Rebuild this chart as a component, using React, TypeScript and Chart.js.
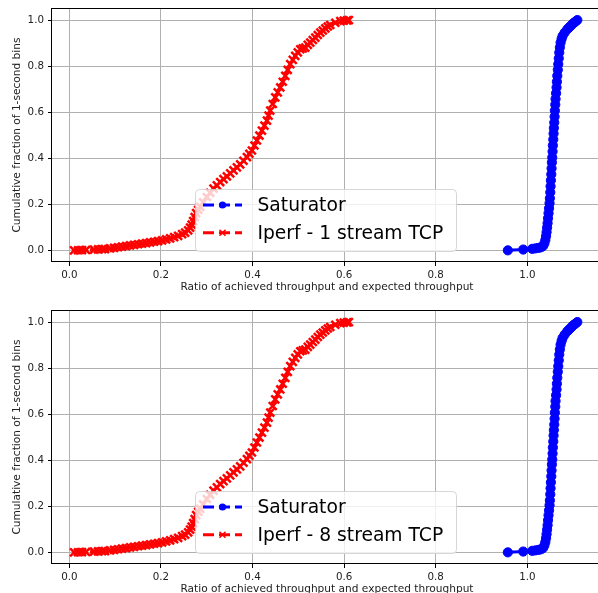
import React, { useEffect, useRef } from 'react';
import { Chart, registerables } from 'chart.js';

Chart.register(...registerables);

// ---------- data ----------
const xTickValues = [0, 0.2, 0.4, 0.6, 0.8, 1.0];
const yTickValues = [0, 0.2, 0.4, 0.6, 0.8, 1.0];

const xTitle = 'Ratio of achieved throughput and expected throughput';
const yTitle = 'Cumulative fraction of 1-second bins';
const saturatorLabel = 'Saturator';
const iperfTopLabel = 'Iperf - 1 stream TCP';
const iperfBottomLabel = 'Iperf - 8 stream TCP';

const iperf1X = [0.0103, 0.0190, 0.0278, 0.0365, 0.0540, 0.0627, 0.0715, 0.0780, 0.0890, 0.0977, 0.1064, 0.1152, 0.1239, 0.1327, 0.1414, 0.1502, 0.1589, 0.1677, 0.1764, 0.1851, 0.1939, 0.2026, 0.2114, 0.2201, 0.2289, 0.2376, 0.2463, 0.2529, 0.2595, 0.2638, 0.2671, 0.2704, 0.2737, 0.2769, 0.2813, 0.2857, 0.2922, 0.3003, 0.3075, 0.3148, 0.3222, 0.3294, 0.3366, 0.3440, 0.3513, 0.3585, 0.3659, 0.3731, 0.3803, 0.3878, 0.3932, 0.3987, 0.4042, 0.4096, 0.4151, 0.4206, 0.4260, 0.4315, 0.4350, 0.4387, 0.4442, 0.4496, 0.4551, 0.4606, 0.4660, 0.4715, 0.4769, 0.4824, 0.4879, 0.4933, 0.4988, 0.5043, 0.5097, 0.5152, 0.5207, 0.5261, 0.5316, 0.5371, 0.5425, 0.5480, 0.5534, 0.5589, 0.5644, 0.5698, 0.5808, 0.5917, 0.5993, 0.6063, 0.6103];
const iperf1Y = [0, 0.0004, 0.0013, 0.0017, 0.0035, 0.0043, 0.0052, 0.0056, 0.0086, 0.0108, 0.0134, 0.0160, 0.0186, 0.0216, 0.0238, 0.0264, 0.0290, 0.0316, 0.0346, 0.0372, 0.0402, 0.0432, 0.0476, 0.0523, 0.0575, 0.0631, 0.0705, 0.0770, 0.0865, 0.0986, 0.1115, 0.1267, 0.1440, 0.1613, 0.1764, 0.1885, 0.2088, 0.2317, 0.2499, 0.2681, 0.2823, 0.2966, 0.3091, 0.3212, 0.3342, 0.3472, 0.3601, 0.3731, 0.3891, 0.4047, 0.4194, 0.4336, 0.4553, 0.4769, 0.4985, 0.5201, 0.5417, 0.5634, 0.5850, 0.6066, 0.6355, 0.6641, 0.6857, 0.7073, 0.7320, 0.7579, 0.7838, 0.8085, 0.8271, 0.8444, 0.8595, 0.8733, 0.8768, 0.8803, 0.8919, 0.9019, 0.9135, 0.9235, 0.9352, 0.9451, 0.9546, 0.9641, 0.9719, 0.9784, 0.9883, 0.9957, 0.9974, 0.9987, 1.0];

const saturatorX = [0.9574, 0.9910, 1.0107, 1.0179, 1.0245, 1.0299, 1.0343, 1.0372, 1.0393, 1.0409, 1.0420, 1.0431, 1.0442, 1.0452, 1.0463, 1.0474, 1.0485, 1.0492, 1.0501, 1.0507, 1.0514, 1.0523, 1.0529, 1.0536, 1.0544, 1.0551, 1.0557, 1.0566, 1.0573, 1.0579, 1.0588, 1.0595, 1.0601, 1.0610, 1.0616, 1.0627, 1.0638, 1.0645, 1.0654, 1.0665, 1.0675, 1.0686, 1.0697, 1.0710, 1.0726, 1.0748, 1.0769, 1.0813, 1.0872, 1.0907, 1.0944, 1.0981, 1.1016, 1.1054, 1.1091];
const saturatorY = [0, 0.0035, 0.0065, 0.0086, 0.0108, 0.0134, 0.0186, 0.0294, 0.0445, 0.0618, 0.0791, 0.0986, 0.1180, 0.1396, 0.1613, 0.1829, 0.2045, 0.2261, 0.2520, 0.2780, 0.3039, 0.3299, 0.3558, 0.3817, 0.4034, 0.4293, 0.4553, 0.4812, 0.5071, 0.5309, 0.5547, 0.5806, 0.6066, 0.6325, 0.6572, 0.6822, 0.7073, 0.7320, 0.7579, 0.7838, 0.8085, 0.8336, 0.8586, 0.8811, 0.9019, 0.9179, 0.9308, 0.9451, 0.9598, 0.9667, 0.9741, 0.9814, 0.9883, 0.9935, 1.0];

// The lower panel's curves read the same as the upper panel's.
const iperf8X = iperf1X;
const iperf8Y = iperf1Y;
const saturator2X = saturatorX;
const saturator2Y = saturatorY;

// ---------- styling ----------
const FONT = '"DejaVu Sans", "Liberation Sans", sans-serif';
const BLUE = '#0000ff';
const RED = '#ff0000';

const zip = (xs: number[], ys: number[]) =>
  xs.slice(0, Math.min(xs.length, ys.length)).map((x, i) => ({ x, y: ys[i] }));

function framePlugin(entries: { label: string; color: string; marker: 'circle' | 'x' }[]) {
  return {
    id: 'frameAndLegend',
    afterDatasetsDraw(chart: any) {
      const { ctx, chartArea: a } = chart;
      ctx.save();
      // axes box (spines)
      ctx.strokeStyle = '#000';
      ctx.lineWidth = 1;
      ctx.setLineDash([]);
      const l = Math.round(a.left) - 0.5;
      const t = Math.round(a.top) + 0.5;
      const r = Math.round(a.right) - 0.5;
      const b = Math.round(a.bottom) - 0.5;
      ctx.strokeRect(l, t, r - l, b - t);

      // legend box
      const bx = 195.5, by = 189.5, bw = 261, bh = 62, rad = 4;
      ctx.beginPath();
      ctx.moveTo(bx + rad, by);
      ctx.lineTo(bx + bw - rad, by);
      ctx.quadraticCurveTo(bx + bw, by, bx + bw, by + rad);
      ctx.lineTo(bx + bw, by + bh - rad);
      ctx.quadraticCurveTo(bx + bw, by + bh, bx + bw - rad, by + bh);
      ctx.lineTo(bx + rad, by + bh);
      ctx.quadraticCurveTo(bx, by + bh, bx, by + bh - rad);
      ctx.lineTo(bx, by + rad);
      ctx.quadraticCurveTo(bx, by, bx + rad, by);
      ctx.closePath();
      ctx.fillStyle = 'rgba(255,255,255,0.8)';
      ctx.fill();
      ctx.strokeStyle = 'rgba(204,204,204,0.8)';
      ctx.lineWidth = 1;
      ctx.stroke();

      entries.forEach((e, i) => {
        const y = 205 + i * 27.7;
        ctx.strokeStyle = e.color;
        ctx.lineWidth = 3;
        ctx.setLineDash([11, 5]);
        ctx.beginPath();
        ctx.moveTo(203, y);
        ctx.lineTo(242, y);
        ctx.stroke();
        ctx.setLineDash([]);
        const mx = 222.5;
        if (e.marker === 'circle') {
          ctx.fillStyle = e.color;
          ctx.beginPath();
          ctx.arc(mx, y, 3.6, 0, Math.PI * 2);
          ctx.fill();
        } else {
          ctx.lineWidth = 1.5;
          ctx.beginPath();
          ctx.moveTo(mx - 3, y - 3);
          ctx.lineTo(mx + 3, y + 3);
          ctx.moveTo(mx - 3, y + 3);
          ctx.lineTo(mx + 3, y - 3);
          ctx.stroke();
        }
        ctx.fillStyle = '#000';
        ctx.font = `18.7px ${FONT}`;
        ctx.textBaseline = 'middle';
        ctx.textAlign = 'left';
        ctx.fillText(e.label, 257.5, y + 1);
      });
      ctx.restore();
    },
  };
}

function makeConfig(sx: number[], sy: number[], ix: number[], iy: number[], iperfLabel: string): any {
  return {
    type: 'line',
    data: {
      datasets: [
        {
          label: saturatorLabel,
          data: zip(sx, sy),
          borderColor: BLUE,
          backgroundColor: BLUE,
          borderWidth: 3,
          borderDash: [11, 5],
          pointStyle: 'circle',
          pointRadius: 4.6,
          pointBackgroundColor: BLUE,
          pointBorderColor: BLUE,
          pointBorderWidth: 1,
          tension: 0,
          fill: false,
        },
        {
          label: iperfLabel,
          data: zip(ix, iy),
          borderColor: RED,
          backgroundColor: RED,
          borderWidth: 3,
          borderDash: [11, 5],
          pointStyle: 'crossRot',
          pointRadius: 5.6,
          pointBackgroundColor: RED,
          pointBorderColor: RED,
          pointBorderWidth: 2.5,
          tension: 0,
          fill: false,
        },
      ],
    },
    options: {
      animation: false,
      responsive: false,
      devicePixelRatio: 1,
      events: [],
      layout: { padding: { top: 7, left: 0, right: 10, bottom: 0 } },
      plugins: { legend: { display: false }, tooltip: { enabled: false } },
      scales: {
        x: {
          type: 'linear',
          min: -0.0378,
          max: 1.163,
          afterBuildTicks: (s: any) => {
            s.ticks = xTickValues.map((v) => ({ value: v }));
          },
          afterFit: (s: any) => {
            s.height = 38;
            s.paddingLeft = 0;
            s.paddingRight = 0;
          },
          border: { display: false },
          grid: { color: '#b0b0b0', lineWidth: 1, tickColor: '#000', tickLength: 4, drawTicks: true },
          ticks: {
            color: '#222',
            font: { family: FONT, size: 10.3 },
            padding: 3,
            maxRotation: 0,
            autoSkip: false,
            callback: (v: any) => Number(v).toFixed(1),
          },
          title: {
            display: true,
            text: xTitle,
            color: '#222',
            font: { family: FONT, size: 10.6 },
            padding: { top: 0, bottom: 6 },
          },
        },
        y: {
          type: 'linear',
          min: -0.0506,
          max: 1.0519,
          afterBuildTicks: (s: any) => {
            s.ticks = yTickValues.map((v) => ({ value: v }));
          },
          afterFit: (s: any) => {
            s.width = 52;
            s.paddingTop = 0;
            s.paddingBottom = 0;
          },
          border: { display: false },
          grid: { color: '#b0b0b0', lineWidth: 1, tickColor: '#000', tickLength: 4, drawTicks: true },
          ticks: {
            color: '#222',
            font: { family: FONT, size: 10.3 },
            padding: 4,
            autoSkip: false,
            callback: (v: any) => Number(v).toFixed(1),
          },
          title: {
            display: true,
            text: yTitle,
            color: '#222',
            font: { family: FONT, size: 10.6 },
            padding: { top: 11, bottom: 0 },
          },
        },
      },
    },
    plugins: [
      framePlugin([
        { label: saturatorLabel, color: BLUE, marker: 'circle' },
        { label: iperfLabel, color: RED, marker: 'x' },
      ]),
    ],
  };
}

function Panel({ top, cfg }: { top: number; cfg: () => any }) {
  const ref = useRef<HTMLCanvasElement | null>(null);
  useEffect(() => {
    if (!ref.current) return;
    const chart = new Chart(ref.current, cfg());
    return () => chart.destroy();
  }, []);
  return (
    <canvas
      ref={ref}
      width={612}
      height={300}
      style={{ position: 'absolute', left: 0, top, width: 612, height: 300 }}
    />
  );
}

export default function App() {
  return (
    <div
      style={{
        position: 'absolute',
        left: 0,
        top: 0,
        width: 598,
        height: 593,
        overflow: 'hidden',
        background: '#fff',
      }}
    >
      <Panel top={0} cfg={() => makeConfig(saturatorX, saturatorY, iperf1X, iperf1Y, iperfTopLabel)} />
      <Panel top={302} cfg={() => makeConfig(saturator2X, saturator2Y, iperf8X, iperf8Y, iperfBottomLabel)} />
    </div>
  );
}
